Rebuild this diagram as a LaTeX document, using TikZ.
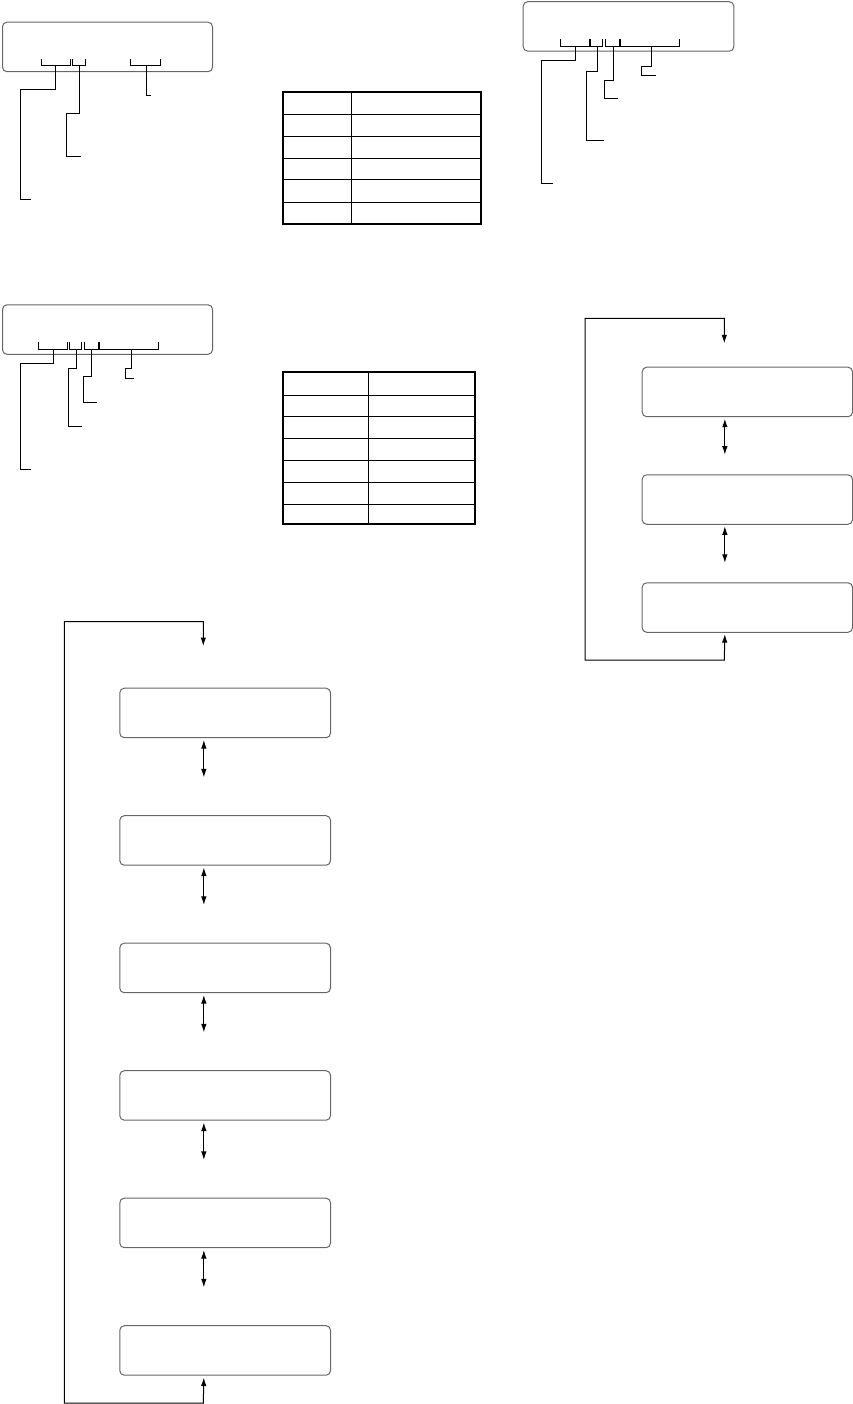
\documentclass[tikz,border=0pt]{standalone}
\usetikzlibrary{arrows.meta}
\tikzset{
  lcd/.style={draw=black!60, line width=1pt, rounded corners=4.5pt, inner sep=0pt, anchor=north west, minimum height=49.5pt},
  lead/.style={line width=1pt, black},
  dtip/.style={{Latex[length=8.5pt,width=5.5pt]}-{Latex[length=8.5pt,width=5.5pt]}},
  tabout/.style={line width=2pt},
  tabin/.style={line width=1pt}
}
\newcommand\lcdbrk[4]{\draw[lead] (#1,#3) -- (#1,#4) -- (#2,#4) -- (#2,#3);}
\begin{document}
\begin{tikzpicture}[x=1pt,y=-1pt]
\useasboundingbox (0,0) rectangle (853,1404);

% ---------- top-left display ----------
\node[lcd, minimum width=210pt] (d1) at (2,21.7) {};
\lcdbrk{41.7}{70.3}{59.3}{65.3}
\lcdbrk{72.3}{85.3}{59.3}{65.3}
\lcdbrk{130}{160.3}{59.3}{65.3}
\draw[lead] (55.3,65.3) |- (20.7,90) |- (30.7,199.3);
\draw[lead] (79.3,65.3) |- (66.7,113.3) |- (81.3,156.7);
\draw[lead] (146.3,65.3) |- (150.7,95.3);

% ---------- table 1 ----------
\draw[tabin] (351,92.3) -- (351,224.3);
\foreach \yy in {115,136.7,158.3,180,202.3}
  \draw[tabin] (283.3,\yy) -- (480.7,\yy);
\draw[tabout] (283.3,92.3) rectangle (480.7,224.3);

% ---------- top-right display ----------
\node[lcd, minimum width=210.6pt] (d2) at (522.7,1.2) {};
\lcdbrk{560.7}{590}{39.3}{46.7}
\lcdbrk{590}{602.7}{39.3}{46.7}
\lcdbrk{605.3}{620.3}{39.3}{46.7}
\lcdbrk{620.3}{679.3}{39.3}{46.7}
\draw[line width=2pt] (590,39.3) -- (590,46.7);
\draw[line width=2pt] (620.3,39.3) -- (620.3,46.7);
\draw[lead] (575.7,46.7) |- (541.3,61) |- (552.7,183.7);
\draw[lead] (597,46.7) |- (586.7,71.7) |- (603.7,141);
\draw[lead] (613.7,46.7) |- (604.7,80.3) |- (617.7,98.3);
\draw[lead] (651.7,46.7) |- (641.3,67) |- (655.7,75.3);

% ---------- middle-left display ----------
\node[lcd, minimum width=210pt] (d3) at (2,304.3) {};
\lcdbrk{38.3}{67.7}{341.7}{349.3}
\lcdbrk{69.3}{81.3}{341.7}{349.3}
\lcdbrk{84.7}{99}{341.7}{349.3}
\lcdbrk{99}{158}{341.7}{349.3}
\draw[line width=2pt] (99,341.7) -- (99,349.3);
\draw[lead] (53.3,349.3) |- (20.7,363) |- (31,469);
\draw[lead] (76,349.3) |- (68,368) |- (82,426.3);
\draw[lead] (91.3,349.3) |- (83.3,376.7) |- (96.7,402.3);
\draw[lead] (131.7,349.3) |- (125.3,368.3) |- (134,378.3);

% ---------- table 2 ----------
\draw[tabin] (368.3,372.3) -- (368.3,524.3);
\foreach \yy in {395,416.7,438.3,460,482.3,504.3}
  \draw[tabin] (283.3,\yy) -- (475,\yy);
\draw[tabout] (283.3,372.3) rectangle (475,524.3);

% ---------- right loop ----------
\node[lcd, minimum width=210.3pt] (r1) at (641.7,366.7) {};
\node[lcd, minimum width=210.3pt] (r2) at (641.7,474.3) {};
\node[lcd, minimum width=210.3pt] (r3) at (641.7,582.3) {};
\coordinate (rloopend) at (724.3,343.3);
\draw[lead, dtip] ([xshift=-22.5pt,yshift=-1.3pt]r3.south) -- (724.3,660) -| (585,318.3) -| (rloopend);
\draw[lead, dtip] ([xshift=-22.5pt,yshift=-1.5pt]r1.south) -- ++(0,36);
\draw[lead, dtip] ([xshift=-22.5pt,yshift=-1.5pt]r2.south) -- ++(0,36.5);

% ---------- left loop ----------
\foreach \i/\t in {1/687.7,2/815.2,3/942.7,4/1070.2,5/1197.7,6/1325.2}
  \node[lcd, minimum width=210.7pt] (l\i) at (119.3,\t) {};
\coordinate (lloopend) at (203.3,646);
\foreach \i in {1,...,5}
  \draw[lead, dtip] ([xshift=-21.3pt,yshift=-1.8pt]l\i.south) -- ++(0,37.4);
\draw[lead, dtip] ([xshift=-21.3pt,yshift=-1.8pt]l6.south) -- (203.3,1403) -| (64.3,621.7) -| (lloopend);
\end{tikzpicture}
\end{document}
